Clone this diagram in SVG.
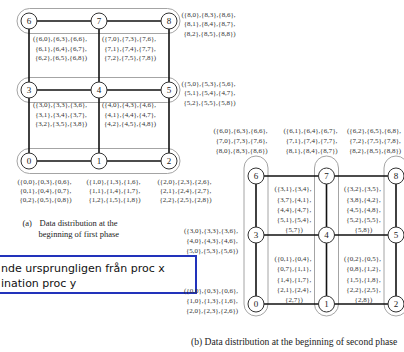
<svg xmlns="http://www.w3.org/2000/svg" width="404" height="352" viewBox="0 0 404 352">
<style>
.cap{fill:none;stroke:#9a9a9a;stroke-width:0.9}
.edge{stroke:#111;stroke-width:1.6;fill:none}
.nd{fill:#fff;stroke:#333;stroke-width:1}
.nl{font-family:"Liberation Serif",serif;font-size:9px;fill:#222;text-anchor:middle}
.lb{font-family:"Liberation Serif",serif;font-size:7px;fill:#333;text-anchor:middle}
.capA{font-family:"Liberation Serif",serif;font-size:8.5px;fill:#222}
.capB{font-family:"Liberation Serif",serif;font-size:9.6px;fill:#222}
.note{font-family:"DejaVu Sans",sans-serif;font-size:11px;fill:#111}
</style>
<rect width="404" height="352" fill="#fff"/>

<!-- (a) groups -->
<g id="groupsA">
<rect class="cap" x="17" y="8.5" width="163" height="25" rx="12.5"/>
<rect class="cap" x="17" y="77.5" width="163" height="25" rx="12.5"/>
<rect class="cap" x="17" y="148.5" width="163" height="25" rx="12.5"/>
</g>
<!-- (b) groups -->
<g id="groupsB">
<rect class="cap" x="244" y="156" width="24" height="160" rx="12"/>
<rect class="cap" x="314.5" y="156" width="24" height="160" rx="12"/>
<rect class="cap" x="384" y="156" width="24" height="160" rx="12"/>
</g>

<g id="connectors">
<!-- (a) -->
<line class="edge" x1="29" y1="21" x2="169" y2="21"/>
<line class="edge" x1="29" y1="90" x2="169" y2="90"/>
<line class="edge" x1="29" y1="161" x2="169" y2="161"/>
<line class="edge" x1="29" y1="21" x2="29" y2="161"/>
<line class="edge" x1="99" y1="21" x2="99" y2="161"/>
<line class="edge" x1="169" y1="21" x2="169" y2="161"/>
<!-- (b) -->
<line class="edge" x1="256" y1="176" x2="396" y2="176"/>
<line class="edge" x1="256" y1="235" x2="396" y2="235"/>
<line class="edge" x1="256" y1="304" x2="396" y2="304"/>
<line class="edge" x1="256" y1="176" x2="256" y2="304"/>
<line class="edge" x1="326.5" y1="176" x2="326.5" y2="304"/>
<line class="edge" x1="396" y1="176" x2="396" y2="304"/>
</g>

<!-- (a) nodes -->
<g id="a6"><circle class="nd" cx="29" cy="21" r="8"/><text class="nl" x="29" y="24">6</text></g>
<g id="a7"><circle class="nd" cx="99" cy="21" r="8"/><text class="nl" x="99" y="24">7</text></g>
<g id="a8"><circle class="nd" cx="169" cy="21" r="8"/><text class="nl" x="169" y="24">8</text></g>
<g id="a3"><circle class="nd" cx="29" cy="90" r="8"/><text class="nl" x="29" y="93">3</text></g>
<g id="a4"><circle class="nd" cx="99" cy="90" r="8"/><text class="nl" x="99" y="93">4</text></g>
<g id="a5"><circle class="nd" cx="169" cy="90" r="8"/><text class="nl" x="169" y="93">5</text></g>
<g id="a0"><circle class="nd" cx="29" cy="161" r="8"/><text class="nl" x="29" y="164">0</text></g>
<g id="a1"><circle class="nd" cx="99" cy="161" r="8"/><text class="nl" x="99" y="164">1</text></g>
<g id="a2"><circle class="nd" cx="169" cy="161" r="8"/><text class="nl" x="169" y="164">2</text></g>

<!-- (a) labels -->
<g id="labelsA" class="lb">
<text x="60" y="41">({6,0},{6,3},{6,6},</text>
<text x="61" y="50.7">{6,1},{6,4},{6,7},</text>
<text x="61" y="60.4">{6,2},{6,5},{6,8})</text>
<text x="129" y="41">({7,0},{7,3},{7,6},</text>
<text x="130" y="50.7">{7,1},{7,4},{7,7},</text>
<text x="130" y="60.4">{7,2},{7,5},{7,8})</text>
<text x="208.5" y="16.5">({8,0},{8,3},{8,6},</text>
<text x="209.5" y="26.2">{8,1},{8,4},{8,7},</text>
<text x="209.5" y="35.9">{8,2},{8,5},{8,8})</text>
<text x="60" y="107">({3,0},{3,3},{3,6},</text>
<text x="61" y="116.5">{3,1},{3,4},{3,7},</text>
<text x="61" y="126">{3,2},{3,5},{3,8})</text>
<text x="129" y="107">({4,0},{4,3},{4,6},</text>
<text x="130" y="116.5">{4,1},{4,4},{4,7},</text>
<text x="130" y="126">{4,2},{4,5},{4,8})</text>
<text x="208.5" y="85.5">({5,0},{5,3},{5,6},</text>
<text x="209.5" y="95.3">{5,1},{5,4},{4,7},</text>
<text x="209.5" y="105">{5,2},{5,5},{5,8})</text>
<text x="44.5" y="184">({0,0},{0,3},{0,6},</text>
<text x="45.5" y="193">{0,1},{0,4},{0,7},</text>
<text x="45.5" y="202">{0,2},{0,5},{0,8})</text>
<text x="113.5" y="184">({1,0},{1,3},{1,6},</text>
<text x="114.5" y="193">{1,1},{1,4},{1,7},</text>
<text x="114.5" y="202">{1,2},{1,5},{1,8})</text>
<text x="184.5" y="184">({2,0},{2,3},{2,6},</text>
<text x="185.5" y="193">{2,1},{2,4},{2,7},</text>
<text x="185.5" y="202">{2,2},{2,5},{2,8})</text>
</g>

<g id="captionA" class="capA">
<text x="22.5" y="225.5">(a)</text>
<text x="39.5" y="225.5">Data distribution at the</text>
<text x="38.5" y="237">beginning of first phase</text>
</g>

<g id="note">
<rect x="-6" y="256" width="202" height="37" fill="#fff" stroke="#2233bb" stroke-width="2"/>
<text class="note" x="1" y="272">nde ursprungligen från proc x</text>
<text class="note" x="1" y="287">ination proc y</text>
</g>

<!-- (b) nodes -->
<g id="b6"><circle class="nd" cx="256" cy="176" r="8"/><text class="nl" x="256" y="179">6</text></g>
<g id="b7"><circle class="nd" cx="326.5" cy="176" r="8"/><text class="nl" x="326.5" y="179">7</text></g>
<g id="b8"><circle class="nd" cx="396" cy="176" r="8"/><text class="nl" x="396" y="179">8</text></g>
<g id="b3"><circle class="nd" cx="256" cy="235" r="8"/><text class="nl" x="256" y="238">3</text></g>
<g id="b4"><circle class="nd" cx="326.5" cy="235" r="8"/><text class="nl" x="326.5" y="238">4</text></g>
<g id="b5"><circle class="nd" cx="396" cy="235" r="8"/><text class="nl" x="396" y="238">5</text></g>
<g id="b0"><circle class="nd" cx="256" cy="304" r="8"/><text class="nl" x="256" y="307">0</text></g>
<g id="b1"><circle class="nd" cx="326.5" cy="304" r="8"/><text class="nl" x="326.5" y="307">1</text></g>
<g id="b2"><circle class="nd" cx="396" cy="304" r="8"/><text class="nl" x="396" y="307">2</text></g>

<!-- (b) labels -->
<g id="labelsB" class="lb">
<text x="240.5" y="132.5">({6,0},{6,3},{6,6},</text>
<text x="241.5" y="143">{7,0},{7,3},{7,6},</text>
<text x="241.5" y="153">{8,0},{8,3},{8,6})</text>
<text x="310.5" y="132.5">({6,1},{6,4},{6,7},</text>
<text x="311.5" y="143">{7,1},{7,4},{7,7},</text>
<text x="311.5" y="153">{8,1},{8,4},{8,7})</text>
<text x="374" y="132.5">({6,2},{6,5},{6,8},</text>
<text x="375" y="143">{7,2},{7,5},{7,8},</text>
<text x="375" y="153">{8,2},{8,5},{8,8})</text>

<text x="293" y="191">({3,1},{3,4},</text>
<text x="294" y="201.5">{3,7},{4,1},</text>
<text x="294" y="211.5">{4,4},{4,7},</text>
<text x="294" y="221.5">{5,1},{5,4},</text>
<text x="294" y="231.5">{5,7})</text>
<text x="362.5" y="191">({3,2},{3,5},</text>
<text x="363.5" y="201.5">{3,8},{4,2},</text>
<text x="363.5" y="211.5">{4,5},{4,8},</text>
<text x="363.5" y="221.5">{5,2},{5,5},</text>
<text x="363.5" y="231.5">{5,8})</text>

<text x="293" y="261">({0,1},{0,4},</text>
<text x="294" y="271">{0,7},{1,1},</text>
<text x="294" y="281.5">{1,4},{1,7},</text>
<text x="294" y="291.5">{2,1},{2,4},</text>
<text x="294" y="301.5">{2,7})</text>
<text x="362.5" y="261">({0,2},{0,5},</text>
<text x="363.5" y="271">{0,8},{1,2},</text>
<text x="363.5" y="281.5">{1,5},{1,8},</text>
<text x="363.5" y="291.5">{2,2},{2,5},</text>
<text x="363.5" y="301.5">{2,8})</text>

<text x="211" y="232.5">({3,0},{3,3},{3,6},</text>
<text x="212" y="243">{4,0},{4,3},{4,6},</text>
<text x="212" y="253">{5,0},{5,3},{5,6})</text>
<text x="211" y="293">({0,0},{0,3},{0,6},</text>
<text x="212" y="303">{1,0},{1,3},{1,6},</text>
<text x="212" y="313">{2,0},{2,3},{2,6})</text>
</g>

<g id="captionB" class="capB">
<text x="191" y="345">(b)  Data distribution at the beginning of second phase</text>
</g>
</svg>
